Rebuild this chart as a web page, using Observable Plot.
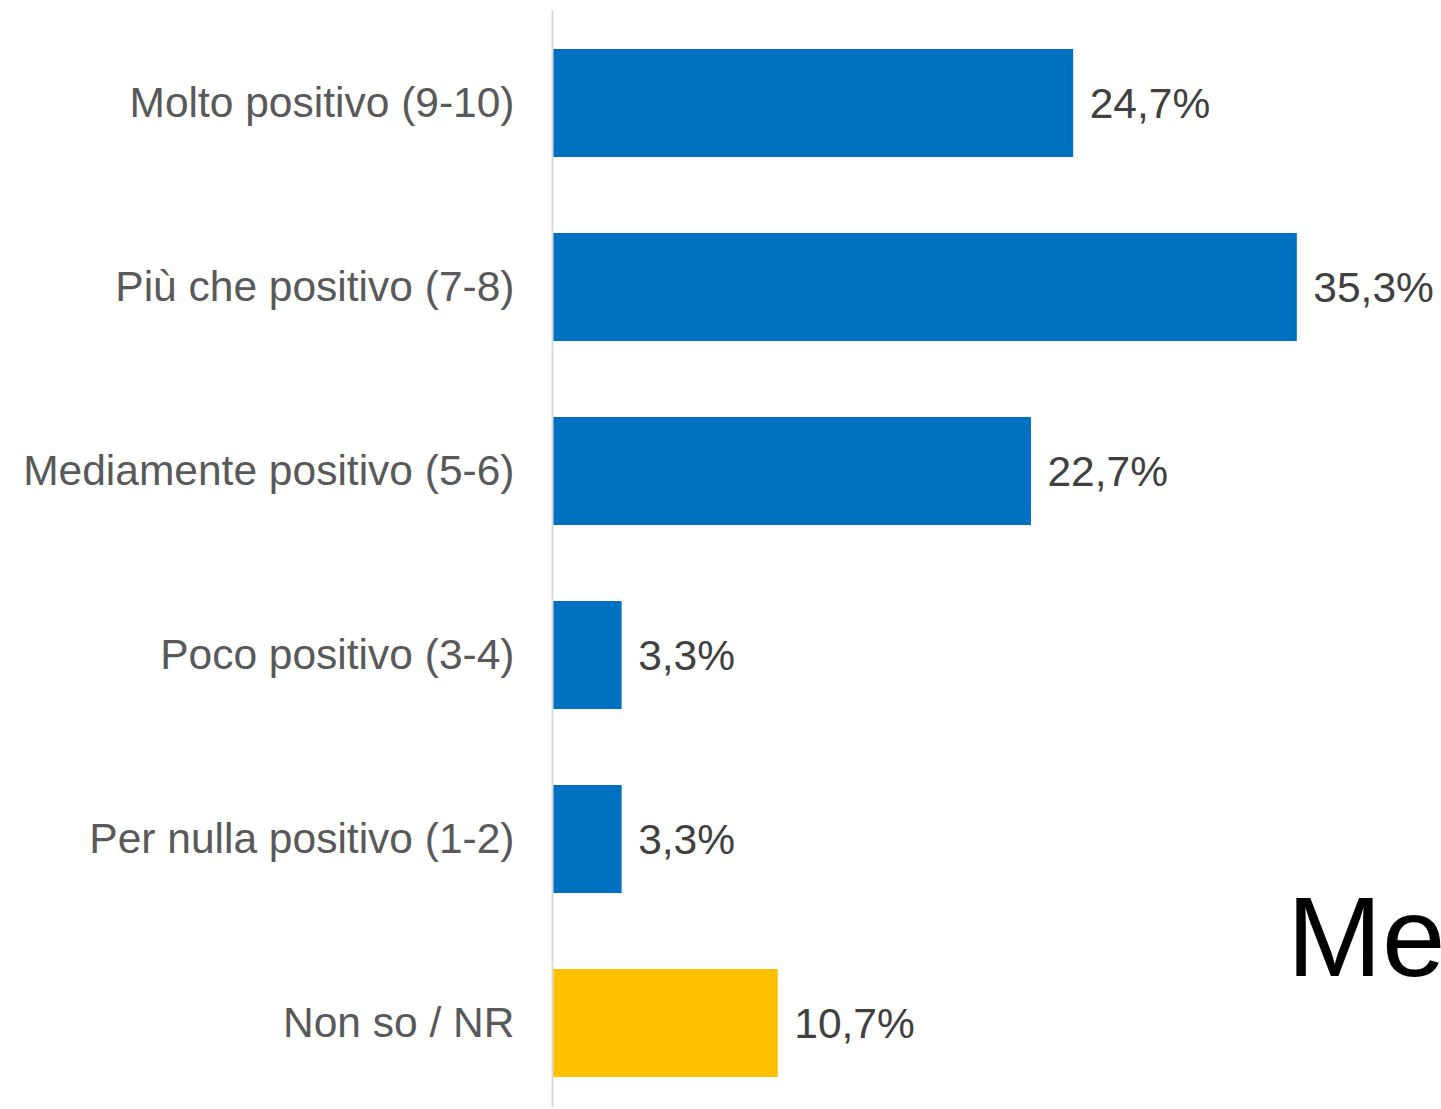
<!DOCTYPE html>
<html>
<head>
<meta charset="utf-8">
<script src="https://cdn.jsdelivr.net/npm/d3@7"></script>
<script src="https://cdn.jsdelivr.net/npm/@observablehq/plot@0.6"></script>
<style>
  html, body { margin: 0; padding: 0; background: #fff; }
  #wrap { position: relative; width: 1441px; height: 1109px; overflow: hidden; font-family: "Liberation Sans", Arial, sans-serif; }
  #me { position: absolute; left: 1287px; top: 880px; font-size: 114px; line-height: 114px; color: #000; white-space: nowrap; }
</style>
</head>
<body>
<div id="wrap"><div id="chart"></div><div id="me">Me</div></div>
<script>
const categories = [
  "Molto positivo (9-10)",
  "Più che positivo (7-8)",
  "Mediamente positivo (5-6)",
  "Poco positivo (3-4)",
  "Per nulla positivo (1-2)",
  "Non so / NR"
];
const values = [24.7, 35.3, 22.7, 3.3, 3.3, 10.7];
const barColors = ["#0070C0", "#0070C0", "#0070C0", "#0070C0", "#0070C0", "#FFC000"];
const valueLabels = ["24,7%", "35,3%", "22,7%", "3,3%", "3,3%", "10,7%"];

const data = categories.map((c, i) => ({cat: c, value: values[i], color: barColors[i], label: valueLabels[i]}));

const chart = Plot.plot({
  width: 1441,
  height: 1109,
  marginLeft: 552,
  marginRight: 45,
  marginTop: 20,
  marginBottom: 3.5,
  style: {fontFamily: "'Liberation Sans', Arial, sans-serif", background: "#fff"},
  x: {domain: [0, 40], axis: null},
  y: {domain: categories, paddingInner: 0.414, paddingOuter: 0.152, axis: null},
  marks: [
    Plot.barX(data, {x: "value", y: "cat", fill: "color"}),
    Plot.ruleX([0], {stroke: "#d9d9d9", strokeWidth: 2, insetTop: -10, insetBottom: -1.5}),
    Plot.text(data, {x: "value", y: "cat", text: "label", textAnchor: "start", dx: 16, dy: 1, fill: "#404040", fontSize: 42.5}),
    Plot.text(data, {x: 0, y: "cat", text: "cat", textAnchor: "end", dx: -38, fill: "#595959", fontSize: 42.5})
  ]
});
document.getElementById("chart").appendChild(chart);
</script>
</body>
</html>
